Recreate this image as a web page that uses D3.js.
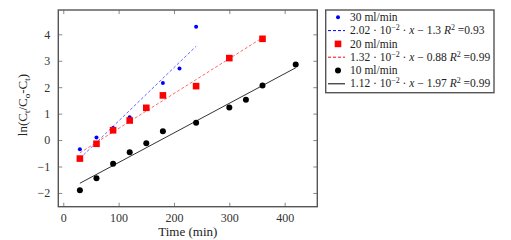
<!DOCTYPE html>
<html>
<head>
<meta charset="utf-8">
<script src="https://cdn.jsdelivr.net/npm/d3@7"></script>
<style>
  body { margin: 0; background: #fff; }
</style>
</head>
<body>
<div id="chart"></div>
<script>
// Data
const xTicks = [0, 100, 200, 300, 400]
const yTicks = [-2, -1, 0, 1, 2, 3, 4]

const x30 = [30, 60, 90, 120, 180, 210, 240]
const y30 = [-0.35, 0.1, 0.46, 0.86, 2.16, 2.71, 4.29]
const x20 = [30, 60, 90, 120, 150, 180, 240, 300, 360]
const y20 = [-0.7, -0.14, 0.37, 0.74, 1.22, 1.69, 2.04, 3.1, 3.83]
const x10 = [30, 60, 90, 120, 150, 180, 240, 300, 330, 360, 420]
const y10 = [-1.9, -1.44, -0.9, -0.46, -0.12, 0.33, 0.66, 1.23, 1.53, 2.06, 2.86]

// fits: slope, intercept, x range
const fitSlopes = [2.02e-2, 1.32e-2, 1.12e-2]
const fitIntercepts = [-1.3, -0.88, -1.97]
const fitRanges = [[30, 240], [30, 360], [30, 420]]

const seriesNames = ["30 ml/min", "20 ml/min", "10 ml/min"]
const fitMantissa = ["2.02", "1.32", "1.12"]
const fitConst = ["1.3", "0.88", "1.97"]
const fitR2 = ["0.93", "0.99", "0.99"]

const series = [
  { xs: x30, ys: y30, color: "#0000ff", mark: "dot", dash: "3,2", lineColor: "#6a6aff" },
  { xs: x20, ys: y20, color: "#ff0000", mark: "square", dash: "3,2", lineColor: "#ff6a6a" },
  { xs: x10, ys: y10, color: "#000000", mark: "circle", dash: null, lineColor: "#333" },
]

const FONT = "Liberation Serif"

const dimensions = {
  width: 511,
  height: 240,
  margin: { top: 10, right: 193.7, bottom: 33.3, left: 58.3 },
}
dimensions.boundedWidth = dimensions.width - dimensions.margin.left - dimensions.margin.right
dimensions.boundedHeight = dimensions.height - dimensions.margin.top - dimensions.margin.bottom

const svg = d3.select("#chart").append("svg")
  .attr("width", dimensions.width)
  .attr("height", dimensions.height)
  .attr("font-family", FONT)

const bounds = svg.append("g")
  .attr("transform", `translate(${dimensions.margin.left},${dimensions.margin.top})`)

// Scales
const xScale = d3.scaleLinear().domain([-9, 459]).range([0, dimensions.boundedWidth])
const yScale = d3.scaleLinear().domain([-2.52, 4.92]).range([dimensions.boundedHeight, 0])

const fmt = d => d < 0 ? "\u2212" + Math.abs(d) : String(d)
const tickLen = 4

// axes (ticks inward, on all four sides)
const axes = [
  { gen: d3.axisBottom(xScale).tickValues(xTicks).tickSizeInner(-tickLen).tickSizeOuter(0).tickPadding(7).tickFormat(fmt), t: `translate(0,${dimensions.boundedHeight})` },
  { gen: d3.axisTop(xScale).tickValues(xTicks).tickSizeInner(-tickLen).tickSizeOuter(0).tickFormat(""), t: "translate(0,0)" },
  { gen: d3.axisLeft(yScale).tickValues(yTicks).tickSizeInner(-tickLen).tickSizeOuter(0).tickPadding(8).tickFormat(fmt), t: "translate(0,0)" },
  { gen: d3.axisRight(yScale).tickValues(yTicks).tickSizeInner(-tickLen).tickSizeOuter(0).tickFormat(""), t: `translate(${dimensions.boundedWidth},0)` },
]
axes.forEach(a => {
  const g = bounds.append("g").attr("transform", a.t).call(a.gen)
  g.attr("font-family", FONT).attr("font-size", 12)
  g.select(".domain").remove()
  g.selectAll(".tick line").attr("stroke", "#888").attr("stroke-width", 1)
  g.selectAll(".tick text").attr("fill", "#333")
})

// fit lines
series.forEach((s, i) => {
  const r = fitRanges[i]
  const f = x => fitSlopes[i] * x + fitIntercepts[i]
  bounds.append("line")
    .attr("x1", xScale(r[0])).attr("y1", yScale(f(r[0])))
    .attr("x2", xScale(r[1])).attr("y2", yScale(f(r[1])))
    .attr("stroke", s.lineColor)
    .attr("stroke-width", 1)
    .attr("stroke-dasharray", s.dash)
})

// marks
const drawMark = (g, type, color, cx, cy) => {
  if (type === "square") {
    g.append("rect").attr("x", cx - 3.3).attr("y", cy - 3.3)
      .attr("width", 6.6).attr("height", 6.6).attr("fill", color)
  } else if (type === "circle") {
    g.append("circle").attr("cx", cx).attr("cy", cy).attr("r", 3).attr("fill", color)
  } else {
    g.append("circle").attr("cx", cx).attr("cy", cy).attr("r", 2).attr("fill", color)
  }
}
series.forEach(s => {
  const g = bounds.append("g")
  s.xs.forEach((xv, j) => drawMark(g, s.mark, s.color, xScale(xv), yScale(s.ys[j])))
})

// frame
bounds.append("rect")
  .attr("width", dimensions.boundedWidth)
  .attr("height", dimensions.boundedHeight)
  .attr("fill", "none")
  .attr("stroke", "#555")
  .attr("stroke-width", 1.4)

// axis labels
svg.append("text")
  .attr("x", dimensions.margin.left + dimensions.boundedWidth / 2)
  .attr("y", 236)
  .attr("text-anchor", "middle")
  .attr("font-size", 13)
  .attr("fill", "#222")
  .text("Time (min)")

const yl = svg.append("text")
  .attr("transform", `translate(27,105) rotate(-90)`)
  .attr("text-anchor", "middle")
  .attr("font-size", 13)
  .attr("fill", "#222")
yl.append("tspan").text("ln(C")
yl.append("tspan").attr("font-size", 9).attr("dy", 3).text("t")
yl.append("tspan").attr("dy", -3).text("/C")
yl.append("tspan").attr("font-size", 9).attr("dy", 3).text("o")
yl.append("tspan").attr("dy", -3).text("-C")
yl.append("tspan").attr("font-size", 9).attr("dy", 3).text("t")
yl.append("tspan").attr("dy", -3).text(")")

// legend
const legend = svg.append("g")
legend.append("rect")
  .attr("x", 325.7).attr("y", 10)
  .attr("width", 168.3).attr("height", 82.7)
  .attr("fill", "#fff")
  .attr("stroke", "#555")
  .attr("stroke-width", 1.4)

const rowH = 13.3
const row0 = 17.3
const textX = 350
series.forEach((s, i) => {
  const yMark = row0 + rowH * (2 * i)
  const yLine = row0 + rowH * (2 * i + 1)
  drawMark(legend, s.mark, s.color, 338, yMark)
  legend.append("text")
    .attr("x", textX).attr("y", yMark + 3.6)
    .attr("font-size", 11.5).attr("fill", "#222")
    .text(seriesNames[i])
  legend.append("line")
    .attr("x1", 328).attr("x2", 345)
    .attr("y1", yLine).attr("y2", yLine)
    .attr("stroke", s.dash ? s.color : "#000")
    .attr("stroke-width", 1)
    .attr("stroke-dasharray", s.dash)
  const t = legend.append("text")
    .attr("x", textX).attr("y", yLine + 3.6)
    .attr("font-size", 11.5).attr("fill", "#222")
  t.append("tspan").text(`${fitMantissa[i]} \u00b7 10`)
  t.append("tspan").attr("font-size", 8).attr("dy", -4).text("\u22122")
  t.append("tspan").attr("dy", 4).text(" \u00b7 ")
  t.append("tspan").attr("font-style", "italic").text("x")
  t.append("tspan").text(` \u2212 ${fitConst[i]} `)
  t.append("tspan").attr("font-style", "italic").text("R")
  t.append("tspan").attr("font-size", 8).attr("dy", -4).text("2")
  t.append("tspan").attr("dy", 4).text(` =${fitR2[i]}`)
})
</script>
</body>
</html>
